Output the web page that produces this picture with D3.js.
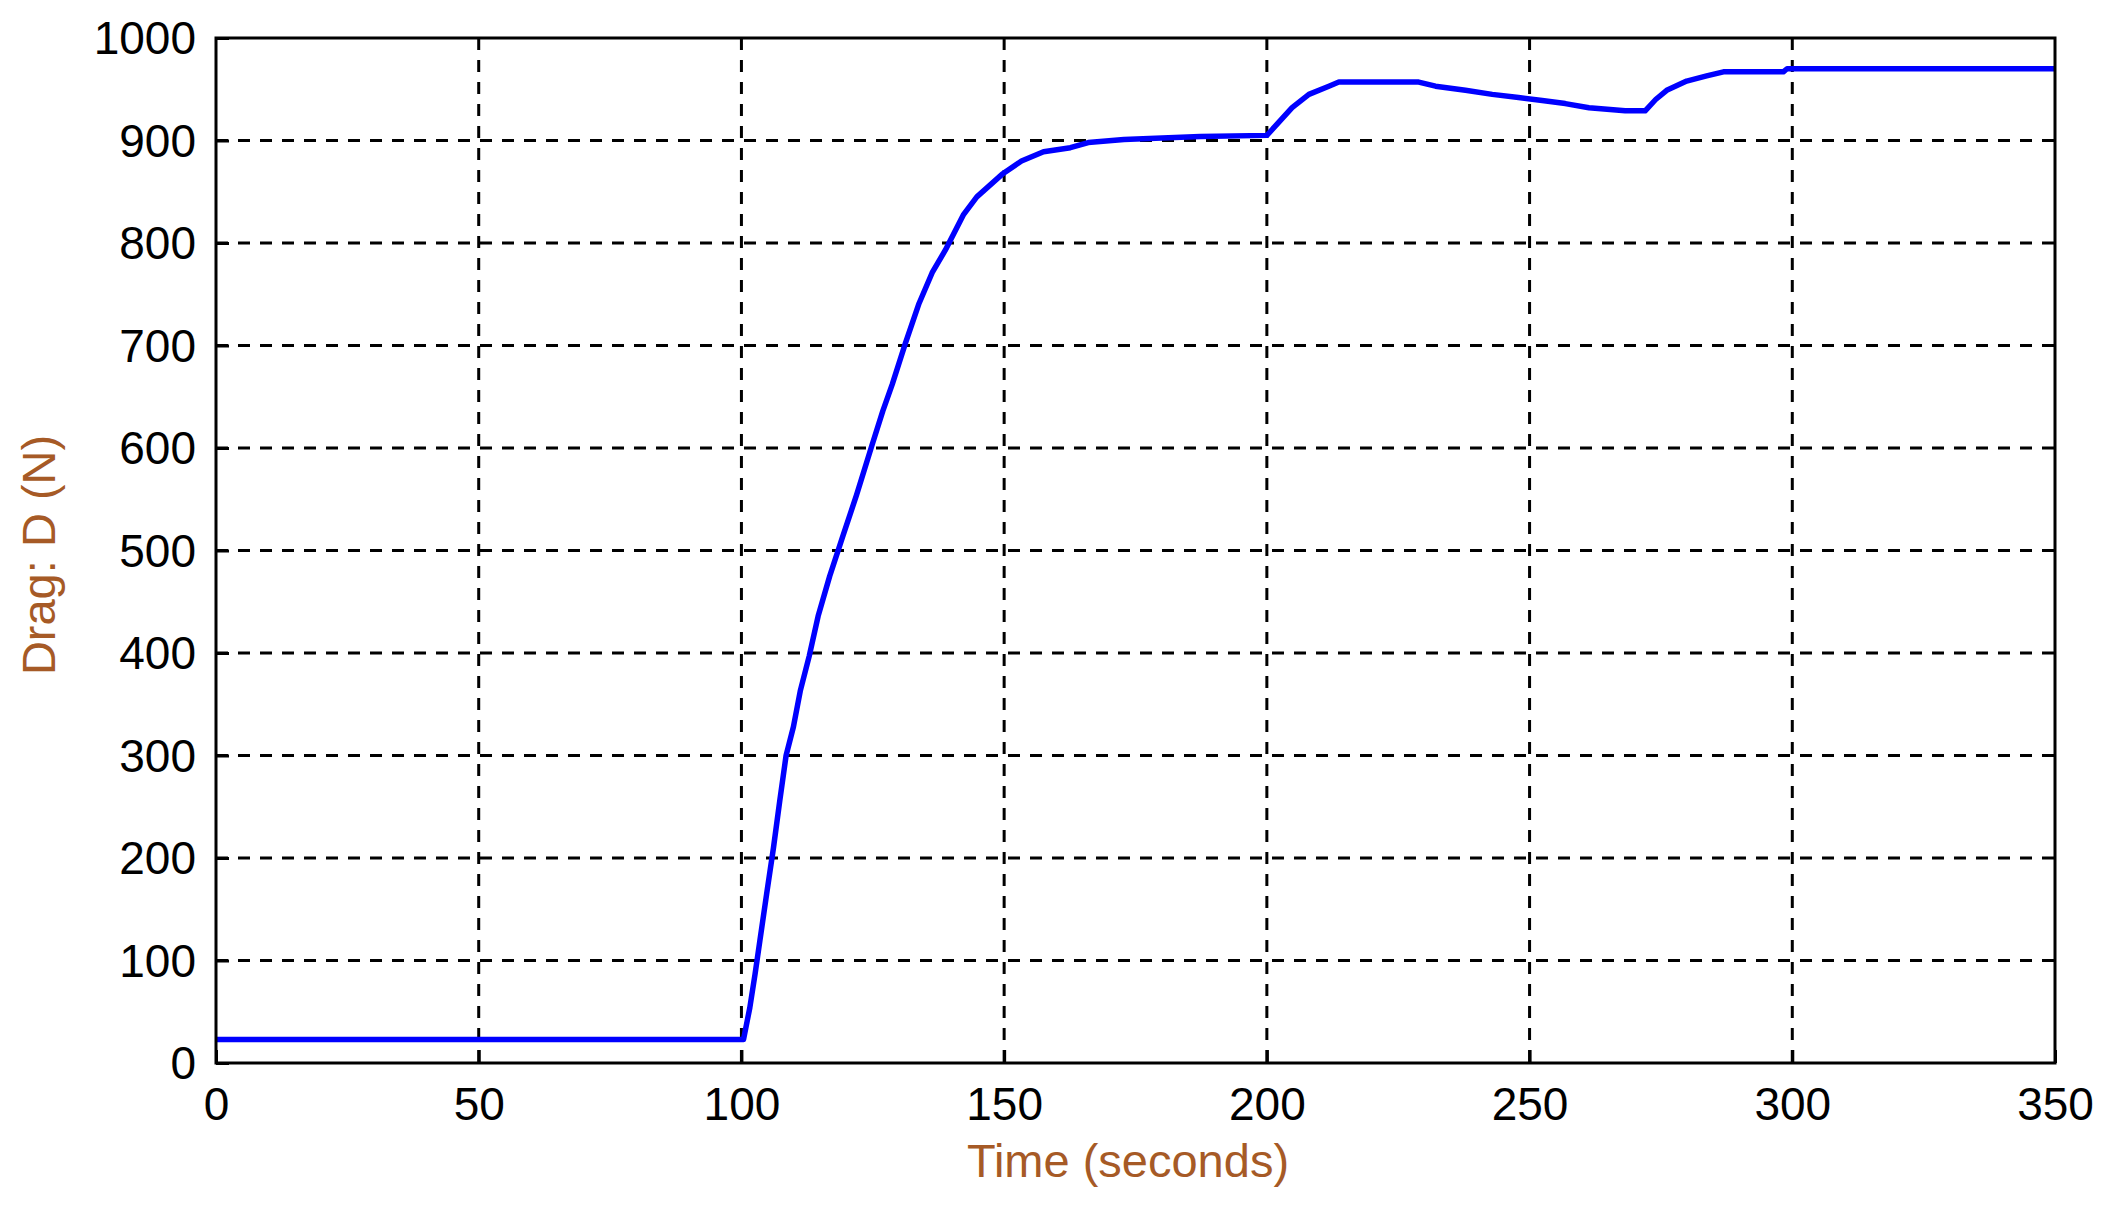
<!DOCTYPE html>
<html lang="en">
<head>
    <meta charset="UTF-8">
    <title>Drag vs time</title>
    <style>
        body { margin: 0; background: #fff; }
        .tick-label { font-family: "Liberation Sans", Arial, sans-serif; font-size: 46px; fill: #000; }
        .axis-title { font-family: "Liberation Sans", Arial, sans-serif; font-size: 47px; fill: #a65a26; }
    </style>
</head>
<body>
<svg id="chart"></svg>
<script src="https://cdnjs.cloudflare.com/ajax/libs/d3/7.8.5/d3.min.js"></script>
<script>
    // values
    var time = [0, 100.4, 101.6, 102.6, 103.5, 104.8, 106.1, 107.3, 108.5, 109.9,
        111.2, 112.9, 114.6, 116.8, 119.3, 121.9, 124.8, 126.9, 128.7, 131.2,
        133.8, 136.3, 138.8, 142.3, 144.8, 149.6, 153.3, 157.5, 162.6, 166,
        172.8, 187.3, 200, 204.8, 208, 211.8, 213.7, 228.9, 232.1, 237.8,
        242.9, 247.9, 252.4, 256.8, 261.3, 268.2, 272, 274, 276.1, 279.9,
        283.7, 286.9, 298.3, 299, 350];
    var drag = [23, 23, 54, 87, 119, 165, 210, 256, 300, 328,
        363, 397, 436, 475, 514, 554, 602, 636, 662, 702,
        741, 771, 793, 828, 845, 867, 880, 889, 893, 898,
        901, 904, 905, 932, 945, 953, 957, 957, 953, 949,
        945, 942, 939, 936, 932, 929, 929, 940, 949, 958,
        963, 967, 967, 970, 970];
    var xTicks = [0, 50, 100, 150, 200, 250, 300, 350];
    var yTicks = [0, 100, 200, 300, 400, 500, 600, 700, 800, 900, 1000];

    var width = 2108, height = 1208;
    var plotLeft = 216, plotRight = 2055, plotTop = 38, plotBottom = 1063;

    var svg = d3.select("#chart")
        .attr("width", width)
        .attr("height", height);

    var x = d3.scaleLinear().domain([0, 350]).range([plotLeft, plotRight]);
    var y = d3.scaleLinear().domain([0, 1000]).range([plotBottom, plotTop]);

    // dashed grid
    var grid = svg.append("g")
        .attr("stroke", "#000")
        .attr("stroke-width", 3)
        .attr("stroke-dasharray", "12,10");
    grid.selectAll("line.v")
        .data(xTicks.slice(1, -1))
        .enter().append("line")
        .attr("class", "v")
        .attr("x1", function(d) { return x(d); })
        .attr("x2", function(d) { return x(d); })
        .attr("y1", plotTop)
        .attr("y2", plotBottom);
    grid.selectAll("line.h")
        .data(yTicks.slice(1, -1))
        .enter().append("line")
        .attr("class", "h")
        .attr("x1", plotLeft)
        .attr("x2", plotRight)
        .attr("y1", function(d) { return y(d); })
        .attr("y2", function(d) { return y(d); });

    // axes with inward ticks
    var fmt = d3.format("d");
    var xAxis = d3.axisBottom(x).tickValues(xTicks).tickFormat(fmt).tickSize(-13).tickPadding(24);
    var yAxis = d3.axisLeft(y).tickValues(yTicks).tickFormat(fmt).tickSize(-13).tickPadding(22);

    var gx = svg.append("g")
        .attr("transform", "translate(0," + plotBottom + ")")
        .call(xAxis);
    var gy = svg.append("g")
        .attr("transform", "translate(" + plotLeft + ",0)")
        .call(yAxis);

    [gx, gy].forEach(function(g) {
        g.select(".domain").remove();
        g.attr("font-family", null).attr("font-size", null);
        g.selectAll(".tick line").attr("stroke", "#000").attr("stroke-width", 3);
        g.selectAll(".tick text")
            .attr("class", "tick-label")
            .attr("fill", null);
    });
    gx.selectAll(".tick text").attr("dy", "0.71em");
    gy.selectAll(".tick text").attr("dy", "0.34em").attr("x", -20);

    // the curve
    var pts = d3.zip(time, drag);
    var line = d3.line()
        .x(function(d) { return x(d[0]); })
        .y(function(d) { return y(d[1]); });
    svg.append("path")
        .datum(pts)
        .attr("d", line)
        .attr("fill", "none")
        .attr("stroke", "#0000ff")
        .attr("stroke-width", 5.5)
        .attr("stroke-linejoin", "round");

    // frame
    svg.append("rect")
        .attr("x", plotLeft)
        .attr("y", plotTop)
        .attr("width", plotRight - plotLeft)
        .attr("height", plotBottom - plotTop)
        .attr("fill", "none")
        .attr("stroke", "#000")
        .attr("stroke-width", 3);

    // titles
    svg.append("text")
        .attr("class", "axis-title")
        .attr("x", 1128)
        .attr("y", 1177)
        .attr("text-anchor", "middle")
        .text("Time (seconds)");
    svg.append("text")
        .attr("class", "axis-title")
        .attr("transform", "translate(55,555) rotate(-90)")
        .attr("text-anchor", "middle")
        .text("Drag: D (N)");
</script>
</body>
</html>
